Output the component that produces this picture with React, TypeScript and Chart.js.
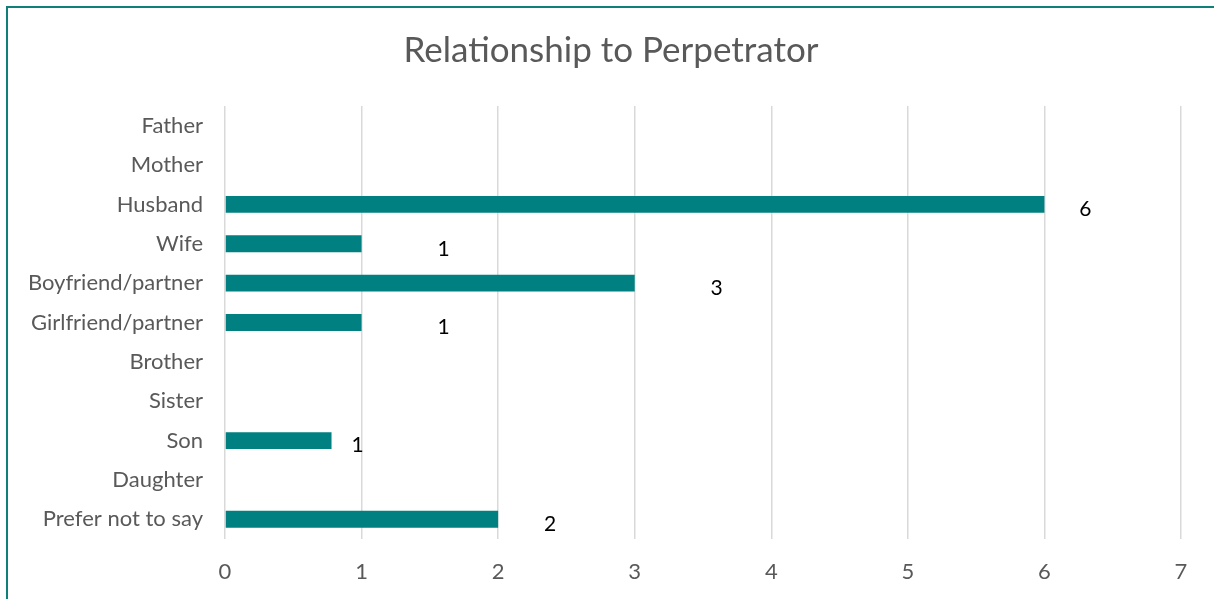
import React, { useEffect, useRef } from "react";
import { Chart, registerables } from "chart.js";

Chart.register(...registerables);

const categories = [
  "Father",
  "Mother",
  "Husband",
  "Wife",
  "Boyfriend/partner",
  "Girlfriend/partner",
  "Brother",
  "Sister",
  "Son",
  "Daughter",
  "Prefer not to say",
];
const values: (number | null)[] = [null, null, 6, 1, 3, 1, null, null, 0.78, null, 2];
const dataLabels: (string | null)[] = [null, null, "6", "1", "3", "1", null, null, "1", null, "2"];
// where each data label sits, in axis units
const dataLabelAt: (number | null)[] = [null, null, 6.3, 1.6, 3.6, 1.6, null, null, 0.97, null, 2.38];
const xTicks = [0, 1, 2, 3, 4, 5, 6, 7];
const title = "Relationship to Perpetrator";

const FONT = "Lato, 'Open Sans', sans-serif";
const TEAL = "#008080";

const labelPlugin = {
  id: "manualLabels",
  afterDatasetsDraw(chart: any) {
    const { ctx, scales } = chart;
    ctx.save();
    ctx.fillStyle = "#000000";
    ctx.font = `21px ${FONT}`;
    ctx.textAlign = "center";
    ctx.textBaseline = "middle";
    dataLabels.forEach((t, i) => {
      if (t == null || dataLabelAt[i] == null) return;
      const x = scales.x.getPixelForValue(dataLabelAt[i]);
      const y = scales.y.getPixelForValue(i) + 5;
      ctx.fillText(t, x, y);
    });
    // title centred on the whole canvas
    ctx.fillStyle = "#595959";
    ctx.font = `35px ${FONT}`;
    ctx.fillText(title, chart.width / 2 + 4, 51);
    ctx.restore();
  },
};

export default function App() {
  const ref = useRef<HTMLCanvasElement>(null);
  useEffect(() => {
    const chart = new Chart(ref.current!, {
      type: "bar",
      data: {
        labels: categories,
        datasets: [
          {
            data: values,
            backgroundColor: TEAL,
            borderWidth: 0,
            barPercentage: 1,
            categoryPercentage: 0.43,
          },
        ],
      },
      options: {
        indexAxis: "y",
        animation: false,
        responsive: false,
        devicePixelRatio: 1,
        layout: { padding: { left: 0, right: 33, top: 106, bottom: 0 } },
        plugins: {
          legend: { display: false },
          tooltip: { enabled: false },
          title: { display: false },
        },
        scales: {
          x: {
            min: 0,
            max: 7,
            afterBuildTicks(scale: any) {
              scale.ticks = xTicks.map((v) => ({ value: v }));
            },
            afterFit(scale: any) {
              scale.height = 60;
            },
            grid: { color: "#d9d9d9", lineWidth: 1.5, drawTicks: false },
            border: { display: false },
            ticks: {
              color: "#595959",
              font: { family: FONT, size: 22 },
              padding: 20,
            },
          },
          y: {
            afterFit(scale: any) {
              scale.width = 225;
            },
            grid: { display: false },
            border: { display: false },
            ticks: {
              color: "#595959",
              font: { family: FONT, size: 22 },
              padding: 14,
              autoSkip: false,
            },
          },
        },
      },
      plugins: [labelPlugin],
    });
    return () => chart.destroy();
  }, []);

  return (
    <div>
      <canvas
        ref={ref}
        width={1214}
        height={599}
        style={{ position: "fixed", left: 0, top: 0, width: 1214, height: 599 }}
      />
      <div
        style={{
          position: "fixed",
          left: 6,
          top: 6,
          width: 1240,
          height: 640,
          borderLeft: "2px solid #0f7f7a",
          borderTop: "2px solid #0f7f7a",
          pointerEvents: "none",
        }}
      />
    </div>
  );
}
